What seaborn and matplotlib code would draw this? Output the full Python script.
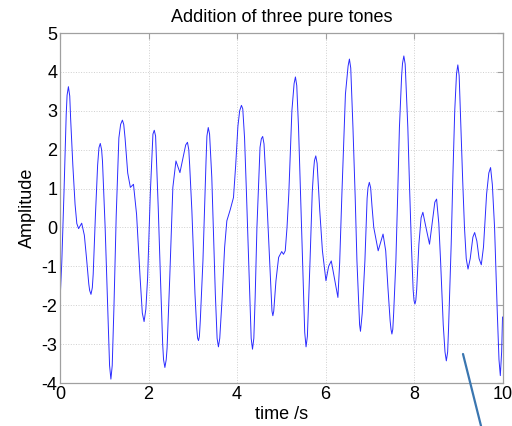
import matplotlib
matplotlib.use("Agg")
import matplotlib.pyplot as plt
from matplotlib.lines import Line2D
import seaborn as sns
import pandas as pd

# Values (time in s, amplitude)
time_s = [
    0.00, 0.04, 0.09, 0.14, 0.16, 0.19, 0.22, 0.24, 0.29, 0.34,
    0.38, 0.42, 0.49, 0.55, 0.60, 0.65, 0.67, 0.70, 0.73, 0.75,
    0.80, 0.85, 0.88, 0.91, 0.94, 0.96, 1.02, 1.08, 1.12, 1.15,
    1.18, 1.22, 1.27, 1.33, 1.37, 1.41, 1.44, 1.47, 1.53, 1.59,
    1.66, 1.73, 1.81, 1.86, 1.90, 1.94, 1.98, 2.04, 2.10, 2.13,
    2.16, 2.22, 2.27, 2.32, 2.34, 2.37, 2.40, 2.42, 2.48, 2.55,
    2.62, 2.71, 2.80, 2.84, 2.88, 2.91, 2.93, 2.98, 3.05, 3.09,
    3.11, 3.13, 3.15, 3.17, 3.23, 3.30, 3.32, 3.35, 3.38, 3.43,
    3.47, 3.51, 3.55, 3.58, 3.61, 3.66, 3.72, 3.77, 3.85, 3.92,
    3.97, 4.02, 4.06, 4.10, 4.13, 4.17, 4.21, 4.25, 4.30, 4.32,
    4.35, 4.38, 4.41, 4.45, 4.52, 4.55, 4.58, 4.61, 4.65, 4.73,
    4.77, 4.79, 4.81, 4.83, 4.88, 4.94, 5.01, 5.05, 5.09, 5.13,
    5.17, 5.24, 5.29, 5.32, 5.35, 5.39, 5.43, 5.47, 5.51, 5.53,
    5.56, 5.59, 5.65, 5.70, 5.73, 5.75, 5.78, 5.81, 5.87, 5.93,
    6.01, 6.07, 6.13, 6.20, 6.28, 6.32, 6.37, 6.45, 6.51, 6.54,
    6.57, 6.62, 6.67, 6.71, 6.77, 6.79, 6.83, 6.89, 6.94, 6.96,
    6.99, 7.02, 7.05, 7.09, 7.19, 7.30, 7.36, 7.41, 7.46, 7.48,
    7.50, 7.52, 7.54, 7.59, 7.63, 7.67, 7.72, 7.74, 7.77, 7.80,
    7.86, 7.90, 7.94, 7.98, 8.00, 8.02, 8.04, 8.06, 8.11, 8.16,
    8.20, 8.27, 8.35, 8.42, 8.47, 8.51, 8.56, 8.60, 8.66, 8.70,
    8.73, 8.76, 8.78, 8.84, 8.88, 8.92, 8.96, 8.99, 9.02, 9.06,
    9.10, 9.14, 9.18, 9.22, 9.27, 9.33, 9.37, 9.42, 9.47, 9.52,
    9.57, 9.64, 9.69, 9.73, 9.77, 9.82, 9.88, 9.92, 9.95, 9.98,
    10.00,
]
amplitude = [
    -1.90, -0.90, 0.90, 2.90, 3.40, 3.62, 3.38, 2.80, 1.60, 0.60,
    0.10, -0.03, 0.11, -0.20, -0.80, -1.45, -1.62, -1.72, -1.55, -1.20,
    0.30, 1.60, 2.05, 2.16, 2.00, 1.70, 0.00, -2.10, -3.55, -3.90,
    -3.55, -2.00, 0.30, 2.30, 2.65, 2.76, 2.65, 2.30, 1.40, 1.03,
    1.11, 0.34, -1.29, -2.20, -2.42, -2.10, -1.29, 0.86, 2.40, 2.50,
    2.35, 0.50, -1.30, -3.00, -3.40, -3.60, -3.40, -3.10, -1.29, 1.03,
    1.71, 1.41, 1.90, 2.12, 2.19, 2.00, 1.60, 0.43, -1.71, -2.60,
    -2.85, -2.91, -2.80, -2.40, -0.86, 1.71, 2.35, 2.57, 2.40, 1.29,
    -0.20, -1.71, -2.85, -3.07, -2.85, -1.89, -0.51, 0.17, 0.47, 0.77,
    1.60, 2.60, 3.00, 3.14, 3.05, 2.31, 1.00, -0.43, -2.30, -2.85,
    -3.13, -2.85, -1.80, 0.00, 2.06, 2.28, 2.34, 2.15, 1.29, -0.69,
    -1.70, -2.15, -2.27, -2.15, -1.37, -0.77, -0.62, -0.69, -0.60, 0.00,
    0.86, 3.00, 3.70, 3.87, 3.65, 2.57, 1.10, -0.43, -2.00, -2.70,
    -3.07, -2.80, -0.86, 0.90, 1.46, 1.72, 1.84, 1.65, 0.43, -0.60,
    -1.37, -1.00, -0.86, -1.30, -1.80, -0.90, 0.86, 3.43, 4.15, 4.33,
    4.10, 2.57, 0.80, -0.86, -2.50, -2.67, -2.20, -0.86, 0.75, 1.02,
    1.16, 1.02, 0.55, 0.00, -0.60, -0.17, -0.60, -1.54, -2.40, -2.62,
    -2.74, -2.62, -2.20, -0.86, 0.80, 2.57, 3.90, 4.22, 4.41, 4.20,
    2.57, 1.00, -0.43, -1.60, -1.88, -1.97, -1.88, -1.60, -0.43, 0.25,
    0.39, 0.00, -0.43, 0.20, 0.65, 0.73, 0.10, -0.86, -2.50, -3.20,
    -3.43, -3.20, -2.60, -0.43, 1.40, 3.00, 3.95, 4.18, 3.90, 2.57,
    1.20, 0.00, -0.80, -1.07, -0.80, -0.25, -0.13, -0.35, -0.80, -0.96,
    -0.50, 0.86, 1.40, 1.54, 1.10, 0.00, -2.14, -3.40, -3.81, -3.20,
    -2.30,
]
x_ticks = [0, 2, 4, 6, 8, 10]
y_ticks = [-4, -3, -2, -1, 0, 1, 2, 3, 4, 5]

df = pd.DataFrame({"time": time_s, "amp": amplitude})

sns.set_theme(style="white")
plt.rcParams["font.family"] = ["Liberation Sans", "DejaVu Sans"]
plt.rcParams["axes.unicode_minus"] = False

fig = plt.figure(figsize=(5.12, 4.26), dpi=100)
ax = fig.add_axes([0.1172, 0.1009, 0.8643, 0.8216])

sns.lineplot(data=df, x="time", y="amp", ax=ax, color="#2b2bff",
             linewidth=0.7, sort=False, estimator=None)

ax.set_xlim(0, 10)
ax.set_ylim(-4, 5)
ax.set_xticks(x_ticks)
ax.set_yticks(y_ticks)
ax.set_xticklabels([str(v) for v in x_ticks])
ax.set_yticklabels([str(v) for v in y_ticks])

ax.grid(True, linestyle=":", color="#cfcfcf", linewidth=0.7)
ax.set_axisbelow(True)
for s in ax.spines.values():
    s.set_color("#a0a0a0")
    s.set_linewidth(0.9)
    s.set_visible(True)

ax.tick_params(axis="both", direction="in", top=True, right=True, length=4,
               width=0.8, color="#a0a0a0", pad=2, labelsize=13, labelcolor="black")

ax.set_title("Addition of three pure tones", fontsize=13, pad=8, color="black")
ax.set_xlabel("time /s", fontsize=13, labelpad=2, color="black")
ax.set_ylabel("Amplitude", fontsize=13, labelpad=4, color="black")

fig.add_artist(Line2D([0.9043, 0.9395], [0.169, 0.0], color="#3a76b0",
                      linewidth=1.6, transform=fig.transFigure))

fig.savefig("out.png", dpi=100, facecolor="white")
